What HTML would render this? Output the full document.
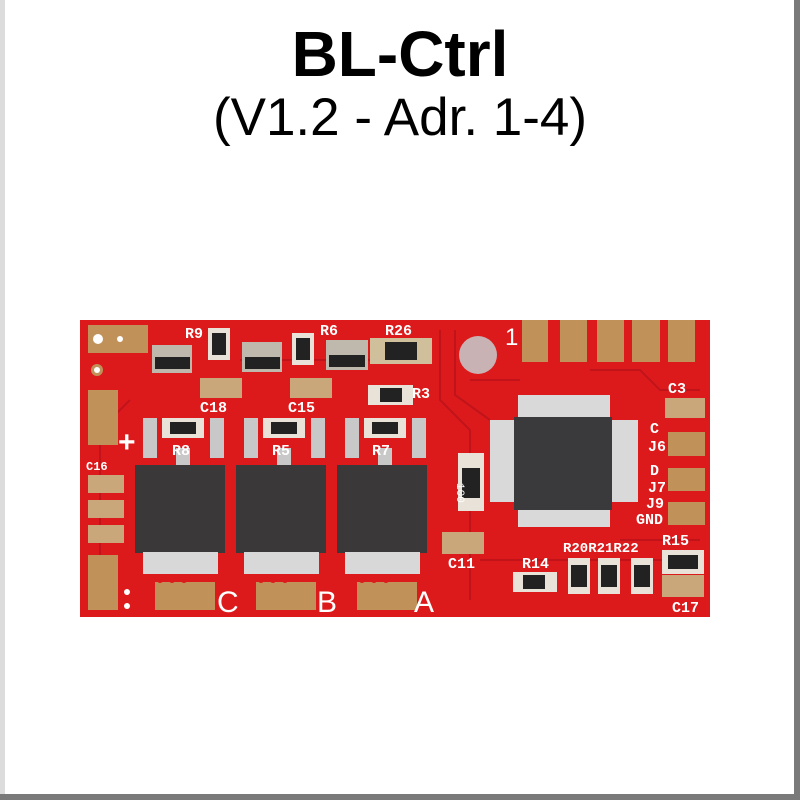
<!DOCTYPE html>
<html><head><meta charset="utf-8"><style>
html,body{margin:0;padding:0;background:#fff;}
body{width:800px;height:800px;position:relative;overflow:hidden;font-family:"Liberation Sans",sans-serif;}
</style></head><body>
<svg width="800" height="800" viewBox="0 0 800 800" xmlns="http://www.w3.org/2000/svg" style="position:absolute;left:0;top:0">
<rect x="0" y="0" width="800" height="800" fill="#fff"/>
<rect x="0" y="0" width="5" height="800" fill="#dcdcdc"/>
<rect x="794" y="0" width="6" height="800" fill="#7a7a7a"/>
<rect x="0" y="794" width="800" height="6" fill="#7a7a7a"/>
<text x="400" y="76" text-anchor="middle" font-family="Liberation Sans, sans-serif" font-weight="bold" font-size="64" fill="#000">BL-Ctrl</text>
<text x="400" y="135" text-anchor="middle" font-family="Liberation Sans, sans-serif" font-size="53" fill="#000">(V1.2 - Adr. 1-4)</text>

<rect x="80" y="320" width="630" height="297" fill="#dc1a1c"/>
<g stroke="#b5121a" stroke-width="2" fill="none" opacity="0.7">
<path d="M440 330 L440 400 L470 430 L470 600"/><path d="M455 330 L455 395 L490 420"/>
<path d="M590 370 L640 370 L660 390 L700 390"/><path d="M470 380 L520 380"/>
<path d="M130 400 L100 430 L100 600"/><path d="M240 360 L400 360"/>
<path d="M620 540 L650 540 L700 540"/><path d="M480 560 L700 560"/>
</g>
<circle cx="478" cy="355" r="19" fill="#c8b2b4"/>
<rect x="88" y="325" width="60" height="28" fill="#c0925a"/>
<circle cx="98" cy="339" r="5" fill="#fff"/><circle cx="120" cy="339" r="3" fill="#fff"/>
<circle cx="97" cy="370" r="6" fill="#c0925a"/><circle cx="97" cy="370" r="3" fill="#fff"/>
<rect x="88" y="390" width="30" height="55" fill="#c0925a"/>
<rect x="88" y="555" width="30" height="55" fill="#c0925a"/>
<circle cx="127" cy="592" r="3" fill="#fff"/><circle cx="127" cy="606" r="3" fill="#fff"/>
<rect x="88" y="475" width="36" height="18" fill="#c9a77a"/>
<rect x="88" y="500" width="36" height="18" fill="#c9a77a"/>
<rect x="88" y="525" width="36" height="18" fill="#c9a77a"/>
<rect x="152" y="345" width="40" height="28" fill="#bfb8ad"/><rect x="155" y="357" width="35" height="12" fill="#222"/>
<rect x="208" y="328" width="22" height="32" fill="#e8e2d8"/><rect x="212" y="333" width="14" height="22" fill="#222"/>
<rect x="242" y="342" width="40" height="30" fill="#bfb8ad"/><rect x="245" y="357" width="35" height="12" fill="#222"/>
<rect x="292" y="333" width="22" height="32" fill="#e8e2d8"/><rect x="296" y="338" width="14" height="22" fill="#222"/>
<rect x="326" y="340" width="42" height="30" fill="#bfb8ad"/><rect x="329" y="355" width="36" height="12" fill="#222"/>
<rect x="370" y="338" width="62" height="26" fill="#cfbf9a"/><rect x="385" y="342" width="32" height="18" fill="#222"/>
<rect x="200" y="378" width="42" height="20" fill="#c9a77a"/><rect x="290" y="378" width="42" height="20" fill="#c9a77a"/>
<rect x="368" y="385" width="45" height="20" fill="#e8e2d8"/><rect x="380" y="388" width="22" height="14" fill="#222"/>
<g id="m">
<rect x="143" y="418" width="14" height="40" fill="#c8c8c8"/><rect x="210" y="418" width="14" height="40" fill="#c8c8c8"/>
<rect x="162" y="418" width="42" height="20" fill="#e8e2d8"/><rect x="170" y="422" width="26" height="12" fill="#222"/>
<rect x="176" y="448" width="14" height="20" fill="#c8c8c8"/>
<rect x="135" y="465" width="90" height="88" fill="#3a3838"/>
<rect x="143" y="552" width="75" height="22" fill="#d8d8d8"/>
<rect x="155" y="582" width="60" height="28" fill="#c0925a"/>
<circle cx="160" cy="580" r="3" fill="#dc1a1c"/><circle cx="172" cy="580" r="3" fill="#dc1a1c"/><circle cx="184" cy="580" r="3" fill="#dc1a1c"/>
</g>
<use href="#m" x="101"/>
<use href="#m" x="202"/>
<g font-family="Liberation Sans, sans-serif" fill="#fff">
<text x="217" y="612" font-size="30">C</text>
<text x="317" y="612" font-size="30">B</text>
<text x="414" y="612" font-size="30">A</text>
<text x="118" y="452" font-size="30" font-weight="bold">+</text>
<text x="505" y="345" font-size="24">1</text>
</g>
<g font-family="Liberation Mono, monospace" font-weight="bold" fill="#fff" font-size="15">
<text x="185" y="338">R9</text><text x="320" y="335">R6</text><text x="385" y="335">R26</text>
<text x="200" y="412">C18</text><text x="288" y="412">C15</text><text x="412" y="398">R3</text>
<text x="172" y="455">R8</text><text x="272" y="455">R5</text><text x="372" y="455">R7</text>
<text x="86" y="470" font-size="12">C16</text>
<text x="448" y="568">C11</text><text x="522" y="568">R14</text>
<text x="563" y="552" font-size="14">R20R21R22</text><text x="662" y="545">R15</text>
<text x="672" y="612">C17</text><text x="668" y="393">C3</text>
<text x="650" y="433">C</text><text x="648" y="451">J6</text>
<text x="650" y="475">D</text><text x="648" y="492">J7</text>
<text x="646" y="508">J9</text><text x="636" y="524">GND</text>
</g>
<rect x="522" y="320" width="26" height="42" fill="#c0925a"/>
<rect x="560" y="320" width="27" height="42" fill="#c0925a"/>
<rect x="597" y="320" width="27" height="42" fill="#c0925a"/>
<rect x="632" y="320" width="28" height="42" fill="#c0925a"/>
<rect x="668" y="320" width="27" height="42" fill="#c0925a"/>
<rect x="668" y="432" width="37" height="24" fill="#c0925a"/>
<rect x="668" y="468" width="37" height="23" fill="#c0925a"/>
<rect x="668" y="502" width="37" height="23" fill="#c0925a"/>
<rect x="665" y="398" width="40" height="20" fill="#c9a77a"/>
<rect x="518" y="395" width="92" height="132" fill="#d9d9d9"/>
<rect x="490" y="420" width="148" height="82" fill="#d9d9d9"/>
<rect x="514" y="417" width="98" height="93" fill="#3a3a3c"/>
<rect x="458" y="453" width="26" height="58" fill="#e8e2d8"/><rect x="462" y="468" width="18" height="30" fill="#222"/>
<text x="470" y="496" font-family="Liberation Mono, monospace" font-size="11" fill="#fff" transform="rotate(90 470 483)">100</text>
<rect x="442" y="532" width="42" height="22" fill="#c9a77a"/>
<rect x="513" y="572" width="44" height="20" fill="#e8e2d8"/><rect x="523" y="575" width="22" height="14" fill="#222"/>
<rect x="568" y="558" width="22" height="36" fill="#e8e2d8"/><rect x="571" y="565" width="16" height="22" fill="#222"/>
<rect x="598" y="558" width="22" height="36" fill="#e8e2d8"/><rect x="601" y="565" width="16" height="22" fill="#222"/>
<rect x="631" y="558" width="22" height="36" fill="#e8e2d8"/><rect x="634" y="565" width="16" height="22" fill="#222"/>
<rect x="662" y="550" width="42" height="24" fill="#e8e2d8"/><rect x="668" y="555" width="30" height="14" fill="#222"/>
<rect x="662" y="575" width="42" height="22" fill="#c9a77a"/>
</svg>
</body></html>
